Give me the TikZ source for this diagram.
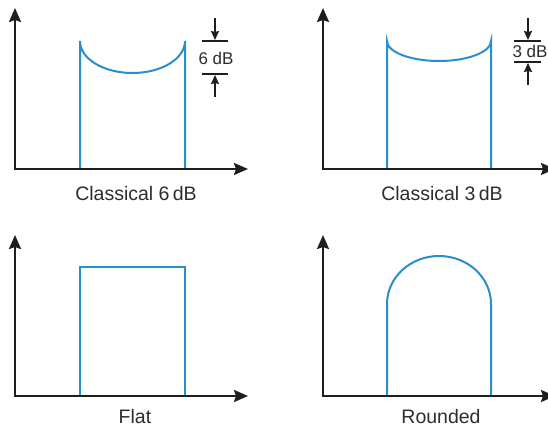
\documentclass[tikz,border=0pt]{standalone}
\usepackage{fontspec}
\setmainfont{Liberation Sans}
\usetikzlibrary{arrows.meta}
\definecolor{curveblue}{RGB}{41,143,204}
\definecolor{axisgray}{RGB}{30,30,30}
\definecolor{textgray}{RGB}{45,45,45}
\begin{document}
\begin{tikzpicture}[x=1pt,y=-1pt,
  axes/.style={draw=axisgray,line width=2.2pt,line join=miter,
    {Stealth[length=14pt,width=12pt,inset=2pt]}-{Stealth[length=14pt,width=12pt,inset=2pt]}},
  response/.style={draw=curveblue,line width=2pt,line join=miter},
  levelbar/.style={draw=axisgray,line width=2.6pt},
  marker/.style={draw=axisgray,line width=1.6pt,-{Stealth[length=9pt,width=8pt,inset=1pt]}},
  caption/.style={text=textgray,font=\fontsize{19.5}{22}\selectfont,anchor=base,inner sep=0pt},
  dblabel/.style={text=textgray,font=\fontsize{17}{19}\selectfont,anchor=base,inner sep=0pt}]
\useasboundingbox (0,0) rectangle (548,428);
\fill[white] (0,0) rectangle (548,428);

% ---------- Panel 1: Classical 6 dB ----------
\coordinate (o1) at (15,169);
\coordinate (y1) at (15,8);
\coordinate (x1) at (248,169);
\coordinate (l1b) at (80,169);
\coordinate (l1t) at (80,41);
\coordinate (r1b) at (185,169);
\coordinate (r1t) at (185,41);
\coordinate (m1) at (132.5,73);
\draw[response] (l1b) -- (l1t)
  .. controls (80,58.7) and (103.5,73) .. (m1)
  .. controls (161.5,73) and (185,58.7) .. (r1t) -- (r1b);
\draw[axes] (y1) -- (o1) -- (x1);
\node[caption] (cap1) at (136,200) {Classical 6\,dB};
% 6 dB marker
\coordinate (b1a) at (202,41);
\coordinate (b1b) at (228,41);
\coordinate (b1c) at (202,74);
\coordinate (b1d) at (228,74);
\coordinate (a1s) at (215,18);
\coordinate (a1e) at (215,40);
\coordinate (a1u) at (215,97);
\coordinate (a1v) at (215,75);
\draw[levelbar] (b1a) -- (b1b);
\draw[levelbar] (b1c) -- (b1d);
\draw[marker] (a1s) -- (a1e);
\draw[marker] (a1u) -- (a1v);
\node[dblabel] (db6) at (216,64) {6 dB};

% ---------- Panel 2: Classical 3 dB ----------
\coordinate (o2) at (323,169);
\coordinate (y2) at (323,8);
\coordinate (x2) at (555,169);
\coordinate (l2b) at (387,169);
\coordinate (l2t) at (387,41);
\coordinate (r2b) at (491,169);
\coordinate (r2t) at (491,41);
\coordinate (m2) at (439,61);
\draw[response] (l2b) -- (l2t)
  .. controls (387,52) and (410.3,61) .. (m2)
  .. controls (467.7,61) and (491,52) .. (r2t) -- (r2b);
\draw[axes] (y2) -- (o2) -- (x2);
\node[caption] (cap2) at (442,200) {Classical 3\,dB};
% 3 dB marker
\coordinate (b2a) at (514,41);
\coordinate (b2b) at (541,41);
\coordinate (b2c) at (514,62);
\coordinate (b2d) at (541,62);
\coordinate (a2s) at (528,18);
\coordinate (a2e) at (528,40);
\coordinate (a2u) at (528,85);
\coordinate (a2v) at (528,63);
\draw[levelbar] (b2a) -- (b2b);
\draw[levelbar] (b2c) -- (b2d);
\draw[marker] (a2s) -- (a2e);
\draw[marker] (a2u) -- (a2v);
\node[dblabel] (db3) at (530,57.5) {3 dB};

% ---------- Panel 3: Flat ----------
\coordinate (o3) at (15,396);
\coordinate (y3) at (15,235);
\coordinate (x3) at (248,396);
\coordinate (l3b) at (80,396);
\coordinate (l3t) at (80,267);
\coordinate (r3t) at (185,267);
\coordinate (r3b) at (185,396);
\draw[response] (l3b) -- (l3t) -- (r3t) -- (r3b);
\draw[axes] (y3) -- (o3) -- (x3);
\node[caption] (cap3) at (135,423) {Flat};

% ---------- Panel 4: Rounded ----------
\coordinate (o4) at (323,396);
\coordinate (y4) at (323,235);
\coordinate (x4) at (555,396);
\coordinate (l4b) at (387,396);
\coordinate (l4t) at (387,304);
\coordinate (m4) at (439,256);
\coordinate (r4t) at (491,304);
\coordinate (r4b) at (491,396);
\draw[response] (l4b) -- (l4t)
  .. controls (387,277.5) and (410.3,256) .. (m4)
  .. controls (467.7,256) and (491,277.5) .. (r4t) -- (r4b);
\draw[axes] (y4) -- (o4) -- (x4);
\node[caption] (cap4) at (441,423) {Rounded};
\end{tikzpicture}
\end{document}
